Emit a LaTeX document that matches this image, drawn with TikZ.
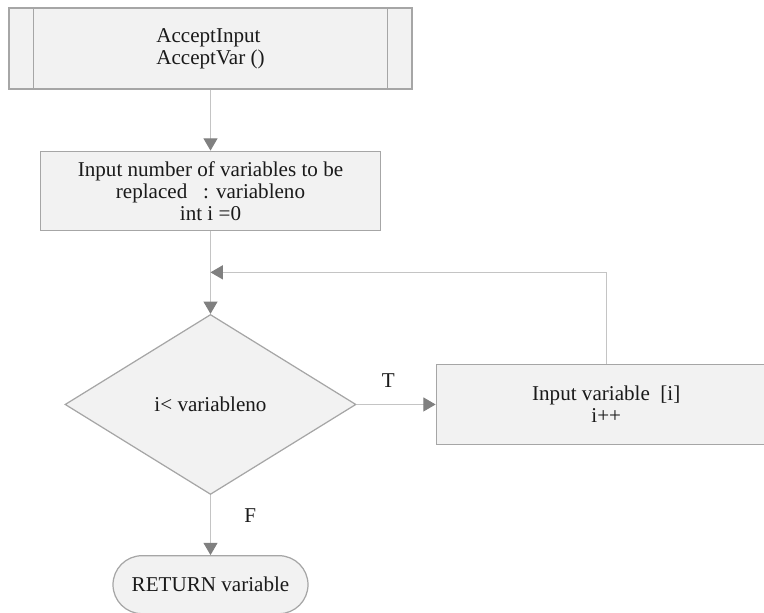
\documentclass[tikz,border=0pt]{standalone}
\usepackage{fontspec}
\setmainfont{Liberation Serif}
\usetikzlibrary{positioning,calc,shapes.geometric,arrows.meta}
\definecolor{boxfill}{HTML}{F2F2F2}
\definecolor{boxline}{HTML}{A6A6A6}
\definecolor{wire}{HTML}{C4C4C4}
\definecolor{tipgray}{HTML}{808080}
\definecolor{ink}{HTML}{1A1A1A}

\tikzset{
  base/.style={draw=boxline, fill=boxfill, line width=0.7pt, text=ink,
    font=\fontsize{12}{12.5}\selectfont, inner sep=0pt},
  procbox/.style={base, rectangle, minimum width=6.8cm, minimum height=1.6cm, align=center},
  decide/.style={base, diamond, minimum width=5.82cm, minimum height=3.6cm},
  stopbox/.style={base, rectangle, rounded corners=0.58cm, minimum width=3.9cm, minimum height=1.16cm},
  wireline/.style={draw=wire, line width=0.6pt, -{Triangle[length=7pt,width=8pt,color=tipgray]}},
  lbl/.style={text=ink, font=\fontsize{12}{12.5}\selectfont}
}

\begin{document}
\begin{tikzpicture}[node distance=2cm, scale=1]
      \useasboundingbox (0,0) rectangle (15.28,-12.24);
      \node(accept) [base, minimum width=8.06cm, minimum height=1.62cm, align=left] at (4.21,-0.97) {AcceptInput\\AcceptVar ()};
      \draw[boxline, line width=0.7pt] ([xshift=0.5cm]accept.north west) -- ([xshift=0.5cm]accept.south west);
      \draw[boxline, line width=0.7pt] ([xshift=-0.5cm]accept.north east) -- ([xshift=-0.5cm]accept.south east);
      \node(input) [procbox, below = 1.22cm of accept, minimum height=1.58cm] {Input number of variables to be\\replaced~~~: variableno\\int i =0};
      \node(check) [decide, below = 1.66cm of input] {i< variableno};
      \node(body) [procbox, right = 1.58cm of check] {Input variable~~[i]\\i++};
      \node(ret) [stopbox, below = 1.2cm of check] {RETURN variable};
      \coordinate(join) at ($(input.south)!0.5!(check.north)$);

      \draw[wireline](accept) -- (input);
      \draw[wireline](input) -- (check);
      \draw[wireline](body.north) |- (join);
      \draw[wireline](check) -- node[lbl, pos=0.4, above=0.22cm] {T} (body);
      \draw[wireline](check) -- node[lbl, pos=0.35, right=0.55cm] {F} (ret);
    \end{tikzpicture}
\end{document}
